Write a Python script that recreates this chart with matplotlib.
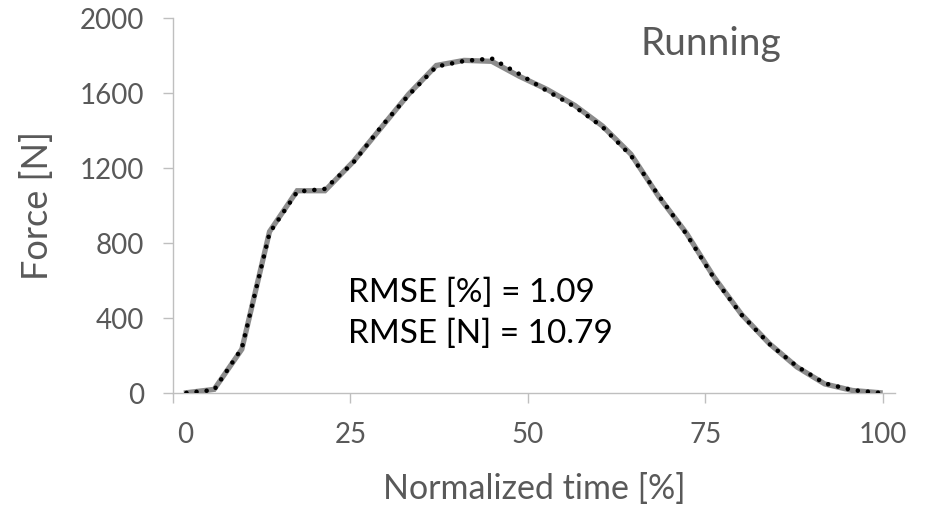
import matplotlib.pyplot as plt
from matplotlib.transforms import ScaledTranslation

plt.rcParams['font.family'] = ['Lato', 'DejaVu Sans']

# normalized time [%] of the samples
time_pct = [1.9, 5.8, 9.7, 13.6, 17.5, 21.4, 25.4, 29.3, 33.2, 37.1, 41.0, 44.9, 48.8,
            52.7, 56.6, 60.5, 64.5, 68.4, 72.3, 76.2, 80.1, 84.0, 87.9, 91.8, 95.7, 99.6]
# measured force (grey line)
force_measured = [3, 21, 235, 862, 1080, 1080, 1235, 1415, 1595, 1748, 1775, 1770, 1690,
                  1620, 1535, 1425, 1275, 1050, 855, 620, 420, 265, 140, 50, 15, 3]
# predicted force (dotted line)
force_predicted = [2, 18, 240, 855, 1075, 1090, 1230, 1420, 1590, 1742, 1772, 1785, 1702,
                   1612, 1528, 1420, 1268, 1055, 850, 615, 418, 263, 143, 53, 17, 2]

x_ticks = [0, 25, 50, 75, 100]
y_ticks = [0, 400, 800, 1200, 1600, 2000]

grey = '#595959'
axis_col = '#bfbfbf'

fig = plt.figure(figsize=(9.35, 5.08), dpi=100)
ax = fig.add_axes([0.185, 0.2258, 0.7722, 0.7384])

ax.plot(time_pct, force_measured, color='#8c8c8c', linewidth=3.8, solid_joinstyle='miter')
ax.plot(time_pct, force_predicted, color='black', linewidth=3.3,
        linestyle=(0, (0.01, 2.2)), dash_capstyle='round')

ax.set_xlim(0, 101.7)
ax.set_ylim(0, 2000)
ax.set_xticks(x_ticks)
ax.set_yticks(y_ticks)

for side in ['top', 'right']:
    ax.spines[side].set_visible(False)
for side in ['left', 'bottom']:
    ax.spines[side].set_color(axis_col)
    ax.spines[side].set_linewidth(1.0)
    ax.spines[side].set_zorder(0)

ax.tick_params(axis='both', colors=axis_col, labelcolor=grey, labelsize=20,
               length=7, width=1.0)
ax.tick_params(axis='y', pad=14)
ax.tick_params(axis='x', pad=14)

# the "0" label sits a little right of its tick in the original
lab0 = ax.get_xticklabels()[0]
lab0.set_transform(lab0.get_transform() + ScaledTranslation(12 / 100, 0, fig.dpi_scale_trans))

ax.set_xlabel('Normalized time [%]', fontsize=24.5, color=grey, labelpad=18)
ax.set_ylabel('Force [N]', fontsize=26, color=grey, labelpad=18)

ax.text(0.745, 0.93, 'Running', transform=ax.transAxes, fontsize=28, color=grey,
        ha='center', va='center')
ax.text(0.243, 0.214, 'RMSE [%] = 1.09\nRMSE [N] = 10.79', transform=ax.transAxes,
        fontsize=24, color='black', ha='left', va='center', linespacing=1.45)

fig.savefig('out.png', dpi=100)
